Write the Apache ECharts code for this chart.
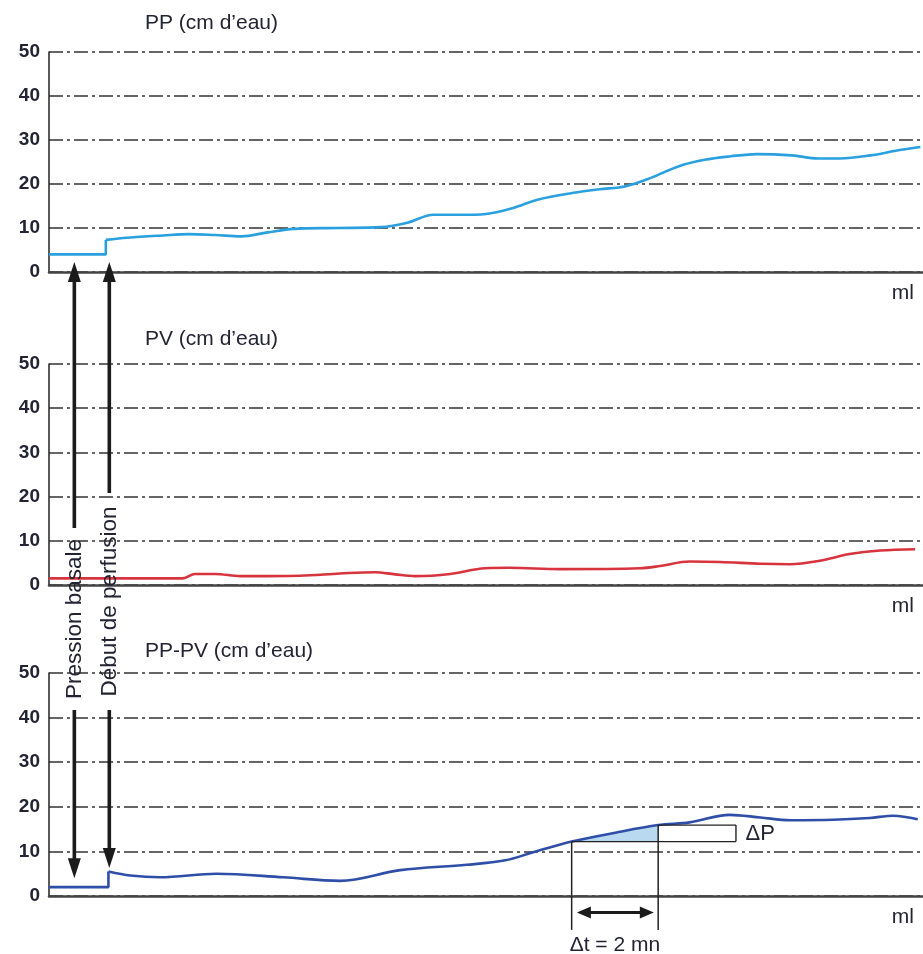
<!DOCTYPE html>
<html><head><meta charset="utf-8">
<script src="https://cdn.jsdelivr.net/npm/echarts@6/dist/echarts.min.js"></script>
<style>html,body{margin:0;padding:0;background:#fff}#c{width:923px;height:954px}</style>
</head><body><div id="c"></div>
<script>
// ---------- data ----------
const titles = ['PP (cm d’eau)', 'PV (cm d’eau)', 'PP-PV (cm d’eau)'];
const yTickInterval = 10;
const yMax = 50;

// PP : basal segment + step, then perfusion curve
const ppBaseX = [0, 6.5, 6.5];
const ppBaseY = [4, 4, 7.3];
const ppX = [6.5, 9, 13, 16, 19, 22, 25, 28, 33, 38, 41, 44, 47, 50, 53, 56, 60, 63, 66, 69, 72, 75, 78, 81, 85, 88, 90.5, 94, 97, 99.7];
const ppY = [7.3, 7.8, 8.3, 8.6, 8.4, 8.1, 9.0, 9.8, 10, 10.2, 11.2, 13.0, 13.0, 13.2, 14.5, 16.5, 18.0, 18.8, 19.5, 21.5, 24.0, 25.5, 26.3, 26.8, 26.5, 25.8, 25.8, 26.5, 27.6, 28.4];

// PV
const pvX = [0, 15.3, 16.7, 19, 21.9, 28.7, 33.3, 37.3, 39.6, 41.9, 45.9, 49.9, 52.7, 58.5, 67.6, 69.9, 73.3, 76.8, 81.4, 84.8, 88.2, 91.6, 95.1, 99.1];
const pvY = [1.5, 1.5, 2.5, 2.5, 2.0, 2.1, 2.6, 2.9, 2.4, 2.0, 2.5, 3.8, 3.9, 3.6, 3.8, 4.3, 5.3, 5.2, 4.8, 4.7, 5.5, 7.0, 7.8, 8.1];

// PP-PV
const diffBaseX = [0, 6.8, 6.8];
const diffBaseY = [2, 2, 5.5];
const diffX = [6.8, 9.3, 12.7, 19.2, 26.8, 33.3, 40.2, 47.8, 52.2, 55.4, 59.8, 64.8, 69.7, 73.3, 77.9, 81.4, 84.8, 89.7, 93.9, 96.6, 99.4];
const diffY = [5.5, 4.6, 4.2, 5.0, 4.2, 3.4, 5.8, 7.0, 8.0, 9.8, 12.2, 14.2, 15.9, 16.5, 18.2, 17.6, 17.0, 17.1, 17.5, 18.0, 17.2];

// shaded ΔP area (subset of PP-PV curve)
const areaX = [59.8, 64.8, 69.7];
const areaY = [12.2, 14.2, 15.9];
const dtStart = 59.8, dtEnd = 69.7, dpLow = 12.2, dpHigh = 15.9, dpRight = 78.6;

// annotation arrows (x in ml units, y in cm d'eau)
const arrowX = [2.9, 6.9];
const arrowLabels = ['Pression basale', 'Début de perfusion'];
const upperTipY = 2.3;           // in PP panel
const upperEndY = [12.9, 20.8];  // in PV panel
const lowerStartY = 41.7;        // in PP-PV panel
const lowerTipY = [4.0, 6.3];    // in PP-PV panel

// ---------- chart ----------
const FONT = '"Liberation Sans", Arial, sans-serif';
const TXT = '#232333';
const chart = echarts.init(document.getElementById('c'), null, {renderer: 'canvas'});
const zip = (xs, ys) => xs.map((x, i) => [x, ys[i]]);

const gridTops = [52, 364, 673];
const gridHeights = [220, 221, 223];
const titleTops = [13, 329, 641];

const grids = gridTops.map((t, i) => ({left: 49, right: 0, top: t, height: gridHeights[i]}));
const xAxes = [0, 1, 2].map(i => ({
  gridIndex: i, type: 'value', min: 0, max: 100,
  axisLine: {show: true, onZero: true, lineStyle: {color: '#444', width: 2.5}},
  axisTick: {show: false}, axisLabel: {show: false}, splitLine: {show: false}
}));
const yAxes = [0, 1, 2].map(i => ({
  gridIndex: i, type: 'value', min: 0, max: yMax, interval: yTickInterval,
  axisLine: {show: true, lineStyle: {color: '#222', width: 1.5}},
  axisTick: {show: false},
  axisLabel: {color: TXT, fontWeight: 'bold', fontSize: 19, margin: 9, fontFamily: FONT},
  splitLine: {show: true, lineStyle: {color: '#333', width: 1.5, type: [14, 4, 3, 4]}}
}));

const lineSeries = (gi, data, color, smooth, z) => ({
  type: 'line', xAxisIndex: gi, yAxisIndex: gi, data, smooth, symbol: 'none',
  lineStyle: {color, width: 2.6}, clip: false, z: z || 3, silent: true
});

const option = {
  animation: false,
  backgroundColor: '#fff',
  title: titles.map((t, i) => ({
    text: t, left: 145, top: titleTops[i], padding: 0,
    textStyle: {fontFamily: FONT, fontSize: 21, fontWeight: 'normal', color: TXT}
  })),
  grid: grids, xAxis: xAxes, yAxis: yAxes,
  series: [
    lineSeries(0, zip(ppBaseX, ppBaseY), '#2aa0df', false),
    lineSeries(0, zip(ppX, ppY), '#2aa0df', 0.35),
    lineSeries(1, zip(pvX, pvY), '#d8343e', 0.35),
    {
      type: 'line', xAxisIndex: 2, yAxisIndex: 2, data: zip(areaX, areaY), smooth: 0.35,
      symbol: 'none', lineStyle: {width: 0}, areaStyle: {color: '#b9d9f1', opacity: 1, origin: dpLow}, z: 2, silent: true
    },
    lineSeries(2, zip(diffBaseX, diffBaseY), '#2f4ea8', false),
    lineSeries(2, zip(diffX, diffY), '#2f4ea8', 0.35)
  ]
};
chart.setOption(option);

// ---------- annotations via library scales ----------
const P = (g, x, y) => chart.convertToPixel({gridIndex: g}, [x, y]);
const gfx = [];
const DARK = '#1b1b1b';
function seg(a, b, w, color) {
  gfx.push({type: 'line', z: 100, shape: {x1: a[0], y1: a[1], x2: b[0], y2: b[1]}, style: {stroke: color, lineWidth: w}});
}
function head(tip, dx, dy, len, half, color) {
  const bx = tip[0] - dx * len, by = tip[1] - dy * len;
  const px = -dy, py = dx;
  gfx.push({type: 'polygon', z: 101, shape: {points: [[tip[0], tip[1]], [bx + px * half, by + py * half], [bx - px * half, by - py * half]]}, style: {fill: color}});
}
function text(pos, str, opts) {
  gfx.push(Object.assign({type: 'text', z: 102, x: pos[0], y: pos[1], style: Object.assign({
    text: str, x: 0, y: 0, fill: TXT, fontFamily: FONT, fontSize: 21, align: 'center', verticalAlign: 'middle'
  }, opts.style || {})}, opts.el || {}));
}

arrowX.forEach((ax, i) => {
  const tipU = P(0, ax, upperTipY);
  const endU = P(1, ax, upperEndY[i]);
  seg([tipU[0], tipU[1] + 12], endU, 3.6, DARK);
  head(tipU, 0, -1, 20, 6.5, DARK);
  const startL = P(2, ax, lowerStartY);
  const tipL = P(2, ax, lowerTipY[i]);
  seg(startL, [tipL[0], tipL[1] - 12], 3.6, DARK);
  head(tipL, 0, 1, 20, 6.5, DARK);
  const mid = [endU[0], (endU[1] + startL[1]) / 2];
  text(mid, arrowLabels[i], {style: {fontSize: 22.5}, el: {rotation: Math.PI / 2}});
});

// Δt
const vA1 = P(2, dtStart, dpLow), vA2 = P(2, dtStart, -7.6);
const vB1 = P(2, dtEnd, dpHigh), vB2 = P(2, dtEnd, -7.6);
seg(vA1, vA2, 1.5, '#222');
seg(vB1, vB2, 1.5, '#222');
const dL = P(2, dtStart + 0.6, -3.7), dR = P(2, dtEnd - 0.5, -3.7);
seg([dL[0] + 10, dL[1]], [dR[0] - 10, dR[1]], 3.2, DARK);
head(dL, -1, 0, 14, 6, DARK);
head(dR, 1, 0, 14, 6, DARK);
text(P(2, (dtStart + dtEnd) / 2, -11.0), 'Δt = 2 mn', {style: {fontSize: 21}});

// ΔP bracket
seg(P(2, dtStart, dpLow), P(2, dpRight, dpLow), 1.4, '#222');
seg(P(2, dtEnd, dpHigh), P(2, dpRight, dpHigh), 1.4, '#222');
seg(P(2, dpRight, dpLow), P(2, dpRight, dpHigh), 1.4, '#222');
text(P(2, dpRight + 1.1, (dpLow + dpHigh) / 2 - 0.2), 'ΔP', {style: {fontSize: 22, align: 'left'}});

// ml labels
[0, 1, 2].forEach(i => text(P(i, 97.7, -4.8), 'ml', {style: {fontSize: 21}}));

chart.setOption({graphic: {elements: gfx}});
</script></body></html>
